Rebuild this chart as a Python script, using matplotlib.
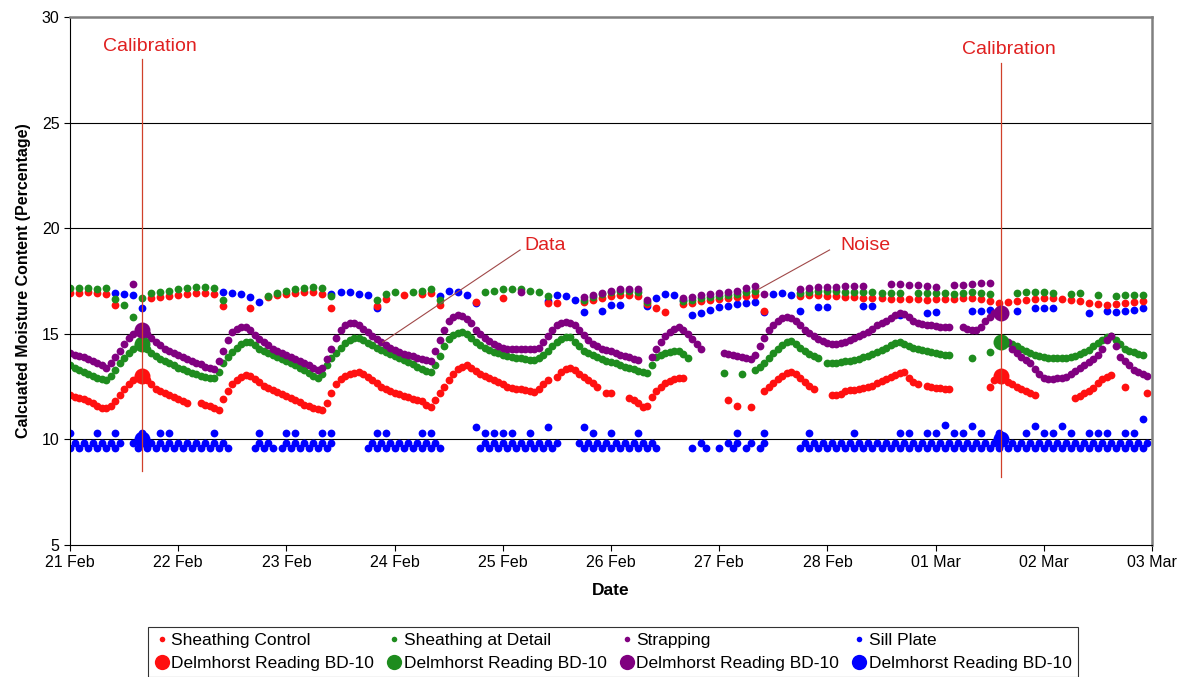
import numpy as np
import matplotlib
matplotlib.use('Agg')
import matplotlib.pyplot as plt
from matplotlib.lines import Line2D

plt.rcParams['font.family'] = ['Liberation Sans', 'DejaVu Sans']

nan = np.nan

# hourly readings from 21 Feb 00:00, one row per day
strapping = [
    14.1, 14.0, 13.95, 13.9, 13.8, 13.7, 13.6, 13.5, 13.4, 13.6, 13.9, 14.2, 14.5, 14.8, 15.0, 15.15, 15.2, 15.0, 14.8, 14.6, 14.45, 14.3, 14.2, 14.1,
    14.0, 13.9, 13.8, 13.7, 13.6, 13.55, 13.45, 13.4, 13.35, 13.7, 14.2, 14.7, 15.1, 15.25, 15.3, 15.3, 15.2, 14.95, 14.75, 14.6, 14.45, 14.3, 14.2, 14.1,
    14.0, 13.9, 13.8, 13.7, 13.6, 13.5, 13.4, 13.3, 13.4, 13.8, 14.3, 14.8, 15.2, 15.4, 15.5, 15.5, 15.4, 15.25, 15.1, 14.9, 14.75, 14.6, 14.45, 14.35,
    14.25, 14.15, 14.05, 14.0, 13.95, 13.85, 13.8, 13.75, 13.7, 14.2, 14.7, 15.2, 15.6, 15.8, 15.9, 15.85, 15.7, 15.5, 15.2, 15.0, 14.8, 14.65, 14.5, 14.4,
    14.35, 14.3, 14.3, 14.3, 14.3, 14.3, 14.3, 14.3, 14.35, 14.6, 14.9, 15.2, 15.4, 15.5, 15.55, 15.5, 15.4, 15.2, 14.95, 14.7, 14.5, 14.4, 14.3, 14.25,
    14.2, 14.1, 14.0, 13.95, 13.9, 13.8, 13.75, nan, nan, 13.9, 14.3, 14.6, 14.9, 15.1, 15.25, 15.3, 15.2, 15.0, 14.75, 14.5, 14.3, nan, nan, nan,
    nan, 14.1, 14.05, 14.0, 13.95, 13.9, 13.85, 13.8, 14.0, 14.4, 14.8, 15.2, 15.4, 15.6, 15.75, 15.8, 15.75, 15.6, 15.4, 15.2, 15.05, 14.9, 14.75, 14.65,
    14.55, 14.5, 14.5, 14.55, 14.6, 14.7, 14.8, 14.9, 15.0, 15.1, 15.25, 15.4, 15.5, 15.6, 15.75, 15.9, 16.0, 15.95, 15.8, 15.6, 15.5, 15.45, 15.4, 15.4,
    15.35, 15.3, 15.3, 15.3, nan, nan, 15.3, 15.25, 15.2, 15.2, 15.3, 15.6, 15.8, 16.0, 16.0, nan, 14.6, 14.3, 14.1, 13.9, 13.75, 13.6, 13.35, 13.1,
    12.9, 12.85, 12.85, 12.9, 12.9, 12.95, 13.1, 13.25, 13.4, 13.5, 13.65, 13.8, 14.0, 14.3, 14.7, 14.9, 14.4, 13.9, 13.7, 13.5, 13.3, 13.2, 13.1, 13.0,
]

detail = [
    13.5, 13.4, 13.3, 13.2, 13.1, 13.0, 12.9, 12.85, 12.8, 13.0, 13.3, 13.6, 13.85, 14.1, 14.3, 14.45, 14.5, 14.3, 14.1, 13.95, 13.8, 13.7, 13.6, 13.5,
    13.4, 13.35, 13.25, 13.15, 13.1, 13.0, 12.95, 12.9, 12.9, 13.2, 13.6, 13.9, 14.15, 14.35, 14.5, 14.6, 14.6, 14.45, 14.3, 14.2, 14.1, 14.0, 13.9, 13.8,
    13.7, 13.6, 13.5, 13.4, 13.3, 13.15, 13.0, 12.9, 13.1, 13.5, 13.85, 14.1, 14.35, 14.55, 14.7, 14.8, 14.8, 14.7, 14.55, 14.45, 14.35, 14.25, 14.15, 14.05,
    13.95, 13.85, 13.75, 13.65, 13.55, 13.45, 13.35, 13.25, 13.2, 13.5, 13.95, 14.4, 14.75, 14.95, 15.05, 15.1, 15.0, 14.8, 14.6, 14.45, 14.35, 14.25, 14.15, 14.1,
    14.0, 13.95, 13.9, 13.85, 13.85, 13.8, 13.75, 13.75, 13.85, 14.0, 14.2, 14.4, 14.6, 14.75, 14.85, 14.85, 14.6, 14.4, 14.2, 14.1, 14.0, 13.9, 13.8, 13.7,
    13.65, 13.6, 13.5, 13.45, 13.4, 13.35, 13.25, 13.2, 13.15, 13.5, 13.9, 14.0, 14.1, 14.15, 14.2, 14.2, 14.05, 13.85, nan, nan, nan, nan, nan, nan,
    nan, 13.15, nan, nan, nan, 13.1, nan, nan, 13.3, 13.45, 13.6, 13.85, 14.1, 14.3, 14.45, 14.6, 14.65, 14.5, 14.35, 14.2, 14.05, 13.95, 13.85, nan,
    13.6, 13.6, 13.6, 13.65, 13.7, 13.7, 13.75, 13.8, 13.9, 13.95, 14.05, 14.15, 14.25, 14.35, 14.45, 14.55, 14.6, 14.5, 14.4, 14.35, 14.3, 14.25, 14.2, 14.15,
    14.1, 14.05, 14.0, 14.0, nan, nan, nan, nan, 13.85, nan, nan, nan, 14.15, nan, nan, 14.6, 14.55, 14.5, 14.4, 14.3, 14.2, 14.1, 14.0, 13.95,
    13.9, 13.85, 13.85, 13.85, 13.85, 13.85, 13.9, 13.95, 14.05, 14.15, 14.25, 14.4, 14.55, 14.7, 14.85, 14.9, 14.7, 14.5, 14.3, 14.2, 14.15, 14.05, 14.0, nan,
]

control = [
    12.1, 12.0, 11.95, 11.9, 11.8, 11.7, 11.6, 11.5, 11.5, 11.6, 11.8, 12.1, 12.4, 12.6, 12.8, 12.95, 13.0, 12.8, 12.6, 12.4, 12.3, 12.2, 12.1, 12.0,
    11.9, 11.8, 11.7, nan, nan, 11.7, 11.65, 11.6, 11.5, 11.4, 11.9, 12.3, 12.6, 12.8, 12.95, 13.05, 13.0, 12.85, 12.7, 12.55, 12.45, 12.35, 12.25, 12.15,
    12.05, 11.95, 11.85, 11.75, 11.65, 11.6, 11.5, 11.45, 11.4, 11.7, 12.2, 12.6, 12.85, 13.0, 13.1, 13.15, 13.2, 13.1, 12.95, 12.8, 12.65, 12.5, 12.4, 12.3,
    12.2, 12.15, 12.05, 12.0, 11.9, 11.85, 11.8, 11.65, 11.55, 11.85, 12.2, 12.5, 12.8, 13.1, 13.35, 13.45, 13.5, 13.4, 13.25, 13.1, 13.0, 12.9, 12.8, 12.7,
    12.6, 12.5, 12.45, 12.4, 12.4, 12.35, 12.3, 12.25, 12.4, 12.6, 12.8, nan, 12.95, 13.2, 13.35, 13.4, 13.3, 13.1, 12.95, 12.8, 12.65, 12.5, nan, 12.2,
    12.2, nan, nan, nan, 11.95, 11.85, 11.7, 11.55, 11.6, 12.0, 12.3, 12.5, 12.65, 12.75, 12.85, 12.9, 12.9, nan, nan, nan, nan, nan, nan, nan,
    nan, nan, 11.85, nan, 11.6, nan, nan, 11.55, nan, nan, 12.3, 12.5, 12.65, 12.85, 13.0, 13.15, 13.2, 13.1, 12.9, 12.7, 12.55, 12.4, nan, nan,
    nan, 12.1, 12.1, 12.15, 12.3, 12.35, 12.35, 12.4, 12.45, 12.5, 12.55, 12.65, 12.75, 12.85, 12.95, 13.05, 13.15, 13.2, 12.9, 12.7, 12.6, nan, 12.55, 12.5,
    12.45, 12.45, 12.4, 12.4, nan, nan, nan, nan, nan, nan, nan, nan, 12.5, 12.8, 13.0, 12.9, 12.7, 12.6, 12.5, 12.4, 12.3, 12.2, 12.1, nan,
    nan, nan, nan, nan, nan, nan, nan, 11.95, 12.05, 12.2, 12.3, 12.45, 12.65, 12.85, 12.95, 13.05, nan, nan, 12.5, nan, nan, nan, nan, 12.2,
]

sill = [
    9.6, 9.85, 9.6, 9.85, 9.6, 9.85, 9.6, 9.85, 9.6, 9.85, 9.6, 9.85, nan, nan, 9.85, 9.6, 9.85, 9.6, 9.85, 9.6, 9.85, 9.6, 9.85, 9.6,
    9.85, 9.6, 9.85, 9.6, 9.85, 9.6, 9.85, 9.6, 9.85, 9.6, 9.85, 9.6, nan, nan, nan, nan, nan, 9.6, 9.85, 9.6, 9.85, 9.6, nan, 9.6,
    9.85, 9.6, 9.85, 9.6, 9.85, 9.6, 9.85, 9.6, 9.85, 9.6, 9.85, nan, nan, nan, nan, nan, nan, nan, 9.6, 9.85, 9.6, 9.85, 9.6, 9.85,
    9.6, 9.85, 9.6, 9.85, 9.6, 9.85, 9.6, 9.85, 9.6, 9.85, 9.6, nan, nan, nan, nan, nan, nan, nan, nan, 9.6, 9.85, 9.6, 9.85, 9.6,
    9.85, 9.6, 9.85, 9.6, 9.85, 9.6, 9.85, 9.6, 9.85, 9.6, 9.85, 9.6, 9.85, nan, nan, nan, nan, 9.85, 9.6, 9.85, 9.6, 9.85, 9.6, 9.85,
    9.6, 9.85, 9.6, 9.85, 9.6, 9.85, 9.6, 9.85, 9.6, 9.85, 9.6, nan, nan, nan, nan, nan, nan, nan, 9.6, nan, 9.85, 9.6, nan, nan,
    9.6, nan, 9.85, 9.6, 9.85, nan, 9.6, 9.85, nan, 9.6, 9.85, nan, nan, nan, nan, nan, nan, nan, 9.6, 9.85, 9.6, 9.85, 9.6, 9.85,
    9.6, 9.85, 9.6, 9.85, 9.6, 9.85, 9.6, 9.85, 9.6, 9.85, 9.6, 9.85, 9.6, 9.85, 9.6, 9.85, 9.6, 9.85, 9.6, 9.85, 9.6, 9.85, 9.6, 9.85,
    9.6, 9.85, 9.6, 9.85, 9.6, 9.85, 9.6, 9.85, 9.6, 9.85, 9.6, 9.85, 9.6, 9.85, 9.6, 9.85, 9.6, 9.85, 9.6, 9.85, 9.6, 9.85, 9.6, 9.85,
    9.6, 9.85, 9.6, 9.85, 9.6, 9.85, 9.6, 9.85, 9.6, 9.85, 9.6, 9.85, 9.6, 9.85, 9.6, 9.85, 9.6, 9.85, 9.6, 9.85, 9.6, 9.85, 9.6, 9.85,
]

# two-hourly readings: sensor jumps into the upper band and sill plate spikes
control_hi = [
    16.95, 16.95, 17.0, 16.95, 16.9, 16.35, nan, nan, nan, 16.7, 16.75, 16.8,
    16.85, 16.9, 16.95, 16.95, 16.9, 16.3, nan, nan, 16.2, nan, 16.75, 16.85,
    16.9, 16.95, 17.0, 17.0, 16.9, 16.2, nan, nan, nan, nan, 16.3, 16.65,
    nan, 16.85, nan, 16.9, 16.95, 16.35, nan, nan, nan, 16.5, nan, nan,
    16.7, nan, nan, nan, nan, 16.45, 16.45, nan, nan, 16.5, 16.6, 16.7,
    16.8, 16.85, 16.85, 16.8, 16.4, 16.2, 16.05, nan, 16.4, 16.45, 16.55, 16.6,
    16.65, 16.7, 16.75, 16.8, 16.85, 16.1, nan, nan, nan, 16.8, 16.85, 16.85,
    16.8, 16.8, 16.75, 16.75, 16.7, 16.7, 16.7, 16.65, 16.65, 16.65, 16.65, 16.6,
    16.65, 16.65, 16.65, 16.7, 16.7, 16.65, 16.55, 16.45, 16.5, 16.55, 16.6, 16.65,
    16.7, 16.7, 16.65, 16.6, 16.55, 16.45, 16.4, 16.35, 16.4, 16.45, 16.5, 16.55,
]

detail_hi = [
    17.15, 17.15, 17.15, 17.1, 17.15, 16.65, 16.35, 15.8, 16.7, 16.95, 17.0, 17.05,
    17.1, 17.15, 17.2, 17.2, 17.15, 16.6, nan, nan, nan, nan, 16.8, 16.95,
    17.05, 17.1, 17.15, 17.2, 17.15, 16.8, nan, nan, nan, nan, 16.6, 16.9,
    17.0, nan, 17.0, 17.05, 17.1, 16.6, nan, nan, nan, nan, 17.0, 17.05,
    17.1, 17.1, 17.1, 17.05, 17.0, 16.8, nan, nan, nan, 16.6, 16.75, 16.9,
    17.0, 17.05, 17.05, 17.0, 16.5, nan, nan, nan, 16.55, 16.6, 16.7, 16.75,
    16.8, 16.85, 16.9, 17.0, 17.05, nan, nan, nan, nan, 16.95, 17.0, 17.05,
    17.05, 17.05, 17.0, 17.0, 17.0, 17.0, 16.95, 16.95, 16.95, nan, 16.95, 16.95,
    16.95, 16.95, 16.9, 16.95, 17.0, 16.95, 16.9, nan, nan, 16.95, 17.0, 17.0,
    17.0, 16.95, nan, 16.9, 16.95, nan, 16.85, nan, 16.8, 16.85, 16.85, 16.85,
]

strapping_hi = [
    nan, nan, nan, nan, nan, nan, nan, 17.35, nan, nan, nan, nan,
    nan, nan, nan, nan, nan, nan, nan, nan, nan, nan, nan, nan,
    nan, nan, nan, nan, nan, nan, nan, nan, nan, nan, nan, nan,
    nan, nan, nan, nan, nan, nan, nan, nan, nan, nan, nan, nan,
    nan, nan, 17.0, nan, nan, nan, nan, nan, nan, 16.75, 16.85, 16.95,
    17.05, 17.1, 17.1, 17.1, 16.6, nan, nan, nan, 16.7, 16.75, 16.85, 16.9,
    16.95, 17.0, 17.05, 17.15, 17.25, 16.9, nan, nan, nan, 17.1, 17.15, 17.2,
    17.2, 17.2, 17.25, 17.25, 17.25, nan, nan, 17.35, 17.35, 17.3, 17.3, 17.25,
    17.2, nan, 17.3, 17.3, 17.35, 17.4, 17.4, nan, nan, nan, nan, nan,
    nan, nan, nan, nan, nan, nan, nan, nan, nan, nan, nan, nan,
]

sill_hi = [
    nan, nan, nan, nan, nan, 16.95, 16.9, 16.85, 16.2, nan, nan, nan,
    nan, nan, nan, nan, nan, 17.0, 16.95, 16.9, 16.75, 16.5, nan, nan,
    nan, nan, nan, nan, nan, 16.9, 17.0, 17.0, 16.9, 16.85, 16.2, nan,
    nan, nan, nan, nan, nan, 16.8, 17.05, 17.0, 16.85, 16.45, nan, nan,
    nan, nan, nan, nan, nan, 16.55, 16.85, 16.8, 16.6, 16.05, nan, 16.1,
    16.35, 16.35, nan, nan, 16.3, 16.7, 16.9, 16.85, 16.6, 15.9, 16.0, 16.15,
    16.25, 16.3, 16.4, 16.45, 16.5, 16.05, 16.9, 16.95, 16.85, 16.1, nan, 16.25,
    16.25, nan, nan, nan, 16.3, 16.3, nan, nan, 15.9, nan, nan, 16.0,
    16.05, nan, nan, nan, 16.1, 16.1, 16.15, nan, nan, 16.1, nan, 16.2,
    16.2, 16.2, nan, nan, nan, 16.0, nan, 16.1, 16.05, 16.1, 16.15, 16.2,
]

sill_spike = [
    10.3, nan, nan, 10.3, nan, 10.3, nan, nan, 10.3, nan, 10.3, 10.3,
    nan, nan, nan, nan, 10.3, nan, nan, nan, nan, 10.3, nan, nan,
    10.3, 10.3, nan, nan, 10.3, 10.3, nan, nan, nan, nan, 10.3, 10.3,
    nan, nan, nan, 10.3, 10.3, nan, nan, nan, nan, 10.6, 10.3, 10.3,
    10.3, 10.3, nan, 10.3, nan, 10.6, nan, nan, nan, 10.6, 10.3, nan,
    10.3, nan, nan, 10.3, nan, nan, nan, nan, nan, nan, nan, nan,
    nan, nan, 10.3, nan, nan, 10.3, nan, nan, nan, nan, 10.3, nan,
    nan, nan, nan, 10.3, nan, nan, nan, nan, 10.3, 10.3, nan, 10.3,
    10.3, 10.7, 10.3, 10.3, 10.65, 10.3, nan, 10.3, nan, nan, 10.3, 10.65,
    10.3, 10.3, 10.65, 10.3, nan, 10.3, 10.3, 10.3, nan, 10.3, 10.3, 10.95,
]

# handheld meter readings taken at each calibration
calib_hour = [16.0, 206.5]
meter_control = [13.0, 13.0]
meter_detail = [14.5, 14.6]
meter_strapping = [15.2, 16.0]
meter_sill = [10.0, 10.0]

day_labels = ['21 Feb', '22 Feb', '23 Feb', '24 Feb', '25 Feb', '26 Feb',
              '27 Feb', '28 Feb', '01 Mar', '02 Mar', '03 Mar']

red = '#ff1010'
green = '#1e8c1e'
purple = '#800080'
blue = '#0000ff'

t1 = np.arange(len(control)) / 24.0
t2 = np.arange(0, len(control), 2) / 24.0
tc = np.array(calib_hour) / 24.0

fig = plt.figure(figsize=(11.86, 6.77), dpi=100)
ax = fig.add_axes([70 / 1186, 1 - 545 / 677, 1082 / 1186, 528 / 677])

kw = dict(ls='none', marker='o', ms=5.6, mew=0)
ax.plot(t1, sill, color=blue, **kw)
ax.plot(t2, sill_spike, color=blue, **kw)
ax.plot(t2, sill_hi, color=blue, **kw)
ax.plot(t2, control_hi, color=red, **kw)
ax.plot(t2, detail_hi, color=green, **kw)
ax.plot(t2, strapping_hi, color=purple, **kw)
ax.plot(t1, control, color=red, **kw)
ax.plot(t1, detail, color=green, **kw)
ax.plot(t1, strapping, color=purple, **kw)

big = dict(ls='none', marker='o', ms=11.5, mew=0)
ax.plot(tc, meter_control, color=red, **big)
ax.plot(tc, meter_detail, color=green, **big)
ax.plot(tc, meter_strapping, color=purple, **big)
ax.plot(tc, meter_sill, color=blue, **big)

# calibration markers and notes
line_col = '#d0402a'
note_col = '#e02020'
ax.plot([tc[0], tc[0]], [28.0, 8.5], color=line_col, lw=0.9)
ax.plot([tc[1], tc[1]], [27.8, 8.2], color=line_col, lw=0.9)
ax.text(tc[0] + 0.07, 28.6, 'Calibration', color=note_col, fontsize=14, ha='center', va='center')
ax.text(tc[1] + 0.07, 28.45, 'Calibration', color=note_col, fontsize=14, ha='center', va='center')

ax.plot([4.16, 2.89], [18.97, 14.6], color='#a04848', lw=0.8)
ax.text(4.39, 19.2, 'Data', color=note_col, fontsize=14, ha='center', va='center')
ax.plot([7.02, 6.35], [18.97, 17.07], color='#a04848', lw=0.8)
ax.text(7.35, 19.2, 'Noise', color=note_col, fontsize=14, ha='center', va='center')

ax.set_xlim(0, 10)
ax.set_ylim(5, 30)
ax.set_yticks([5, 10, 15, 20, 25, 30])
ax.set_xticks(np.arange(len(day_labels)))
ax.set_xticklabels(day_labels)
ax.tick_params(labelsize=11.5, length=4, direction='out', width=0.8)
for y in [10, 15, 20, 25]:
    ax.axhline(y, color='black', lw=0.8, zorder=0)

ax.spines['left'].set_color('black')
ax.spines['bottom'].set_color('black')
ax.spines['top'].set_color('#808080')
ax.spines['right'].set_color('#808080')
ax.spines['top'].set_linewidth(1.8)
ax.spines['right'].set_linewidth(1.8)

ax.set_ylabel('Calcuated Moisture Content (Percentage)', fontsize=11.5, fontweight='bold', labelpad=8)
ax.set_xlabel('Date', fontsize=12.5, fontweight='bold', labelpad=9)

names = ['Sheathing Control', 'Sheathing at Detail', 'Strapping', 'Sill Plate']
cols = [red, green, purple, blue]
handles = []
labels = []
for n, c in zip(names, cols):
    handles.append(Line2D([], [], ls='none', marker='o', ms=4, mew=0, color=c))
    labels.append(n)
    handles.append(Line2D([], [], ls='none', marker='o', ms=11, mew=0, color=c))
    labels.append('Delmhorst Reading BD-10')
leg = fig.legend(handles, labels, ncol=4, loc='upper left',
                 bbox_to_anchor=(148 / 1186, 1 - 627 / 677),
                 fontsize=12.5, frameon=True, fancybox=False,
                 edgecolor='black', handletextpad=0.1, handlelength=0.9,
                 columnspacing=0.7, borderpad=0.35, labelspacing=0.45,
                 borderaxespad=0)
leg.get_frame().set_linewidth(0.8)

fig.savefig('out.png', dpi=100)
